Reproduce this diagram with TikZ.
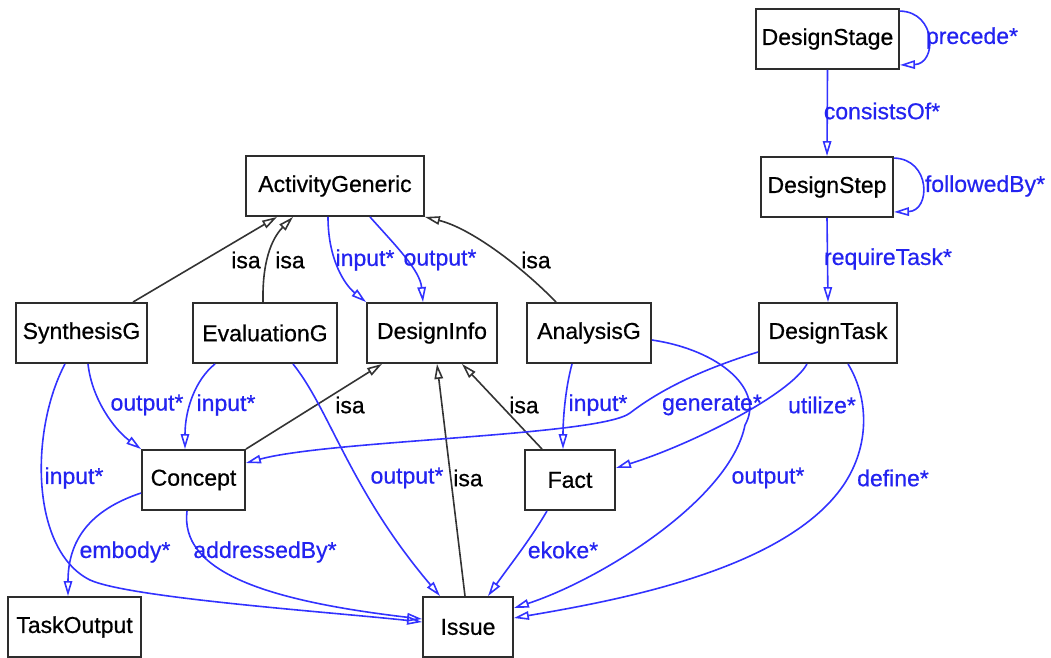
\documentclass[tikz,border=0pt]{standalone}
\usepackage{fontspec}
\setmainfont{Liberation Sans}
\newfontfamily\diagfont{Liberation Sans}[FakeBold=0.6]
\usetikzlibrary{arrows.meta}
\definecolor{edgeblue}{RGB}{50,50,255}
\definecolor{labelblue}{RGB}{35,35,240}
\definecolor{boxline}{RGB}{45,45,45}
\begin{document}
\begin{tikzpicture}[x=1pt,y=-1pt,
  cls/.style={draw=boxline, line width=1.9pt, rectangle, minimum height=60pt,
    inner sep=0pt, font=\diagfont\fontsize{23}{27}\selectfont, text=black},
  rel/.style={draw=edgeblue, line width=1.6pt, -{Triangle[open,length=15pt,width=8.5pt]}},
  isa/.style={draw=black!80, line width=1.6pt, -{Triangle[open,length=15pt,width=8.5pt]}},
  rlabel/.style={font=\diagfont\fontsize{23}{27}\selectfont, text=labelblue, inner sep=0pt},
  ilabel/.style={font=\diagfont\fontsize{23}{27}\selectfont, text=black, inner sep=0pt},
]
\useasboundingbox (0,0) rectangle (1051,657);

% classes
\node[cls, minimum width=143pt] (stage) at (827.5,39)  {DesignStage};
\node[cls, minimum width=132pt] (step)  at (827,187)   {DesignStep};
\node[cls, minimum width=138pt] (task)  at (828,333)   {DesignTask};
\node[cls, minimum width=178pt] (ag)    at (335,186)   {ActivityGeneric};
\node[cls, minimum width=131pt] (syn)   at (81.5,333)  {SynthesisG};
\node[cls, minimum width=144pt] (eva)   at (265,333)   {EvaluationG};
\node[cls, minimum width=130pt] (di)    at (432,333)   {DesignInfo};
\node[cls, minimum width=124pt] (ana)   at (589,333)   {AnalysisG};
\node[cls, minimum width=103pt] (con)   at (193.5,480) {Concept};
\node[cls, minimum width=90pt]  (fact)  at (570,480)   {Fact};
\node[cls, minimum width=133pt] (tout)  at (74.5,627)  {TaskOutput};
\node[cls, minimum width=90pt]  (issue) at (468,627)   {Issue};

% generalisation
\draw[isa] ([xshift=51.5pt]syn.north) -- ([xshift=-58pt]ag.south);
\draw[isa] ([xshift=-2pt]eva.north) .. controls (262,255) and (275,235) .. ([xshift=-42pt]ag.south);
\draw[isa] ([xshift=-33pt]ana.north) .. controls (520,265) and (470,228) .. (ag.south east);
\draw[isa] (con.north east) -- ([xshift=-50pt]di.south);
\draw[isa] ([xshift=-3pt]issue.north) -- ([xshift=5pt]di.south);
\draw[isa] ([xshift=-28pt]fact.north) -- ([xshift=30pt]di.south);

% relations
\draw[rel] ([yshift=-3pt]stage.north east) .. controls (937,12) and (937,64) .. ([yshift=5pt]stage.south east);
\draw[rel] (stage.south) -- (step.north);
\draw[rel] ([yshift=-2pt]step.north east) .. controls (931,159) and (931,211) .. ([yshift=6pt]step.south east);
\draw[rel] (step.south) -- (task.north);
\draw[rel] ([xshift=-7pt]ag.south) .. controls (328,260) and (345,285) .. (di.north west);
\draw[rel] ([xshift=35pt]ag.south) .. controls (395,245) and (420,270) .. ([xshift=-9pt]di.north);
\draw[rel] ([xshift=6.5pt]syn.south) .. controls (92,400) and (115,430) .. (con.north west);
\draw[rel] ([xshift=-50pt]eva.south) .. controls (195,380) and (185,410) .. ([xshift=-8.5pt]con.north);
\draw[rel] ([xshift=-16.5pt]syn.south) .. controls (30,430) and (30,550) .. (90,580)
  .. controls (130,598) and (330,612) .. ([yshift=5pt]issue.west);
\draw[rel] ([xshift=28pt]eva.south) .. controls (330,410) and (350,490) .. ([xshift=-28pt]issue.north);
\draw[rel] ([xshift=-17pt]ana.south) .. controls (565,390) and (563,420) .. ([xshift=-7pt]fact.north);
\draw[rel] ([yshift=-7pt]ana.east) .. controls (720,350) and (765,390) .. (745,425)
  .. controls (730,500) and (600,580) .. ([yshift=19pt]issue.east);
\draw[rel] ([yshift=-19pt]task.west) .. controls (700,370) and (660,390) .. (630,413)
  .. controls (600,436) and (330,440) .. ([yshift=17pt]con.east);
\draw[rel] ([xshift=-21pt]task.south) .. controls (790,395) and (690,445) .. ([yshift=12pt]fact.east);
\draw[rel] ([xshift=20pt]task.south) .. controls (870,400) and (870,450) .. (840,490)
  .. controls (780,570) and (620,600) .. ([yshift=9pt]issue.east);
\draw[rel] ([xshift=-23pt]fact.south) .. controls (530,540) and (510,565) .. ([xshift=20pt]issue.north);
\draw[rel] ([yshift=-13pt]con.west) .. controls (90,510) and (68,540) .. ([xshift=-6.5pt]tout.north);
\draw[rel] ([xshift=-6.5pt]con.south) .. controls (180,570) and (260,600) .. ([yshift=8pt]issue.west);

% labels
\node[ilabel] (i1) at (246,260) {isa};
\node[ilabel] (i2) at (290,260) {isa};
\node[ilabel] (i3) at (536,260) {isa};
\node[ilabel] (i4) at (350,405) {isa};
\node[ilabel] (i5) at (524,405) {isa};
\node[ilabel] (i6) at (468,478) {isa};

\node[rlabel] (r1)  at (972,38)  {precede*};
\node[rlabel] (r2)  at (882,111) {consistsOf*};
\node[rlabel] (r3)  at (985,186) {followedBy*};
\node[rlabel] (r4)  at (888,259) {requireTask*};
\node[rlabel] (r5)  at (365,260) {input*};
\node[rlabel] (r6)  at (440,260) {output*};
\node[rlabel] (r7)  at (147,405) {output*};
\node[rlabel] (r8)  at (226,405) {input*};
\node[rlabel] (r9)  at (598,405) {input*};
\node[rlabel] (r10) at (712,405) {generate*};
\node[rlabel] (r11) at (822,405) {utilize*};
\node[rlabel] (r12) at (74,478)  {input*};
\node[rlabel] (r13) at (407,478) {output*};
\node[rlabel] (r14) at (768,478) {output*};
\node[rlabel] (r15) at (893,478) {define*};
\node[rlabel] (r16) at (125,552) {embody*};
\node[rlabel] (r17) at (265,552) {addressedBy*};
\node[rlabel] (r18) at (563,550) {ekoke*};
\end{tikzpicture}
\end{document}
